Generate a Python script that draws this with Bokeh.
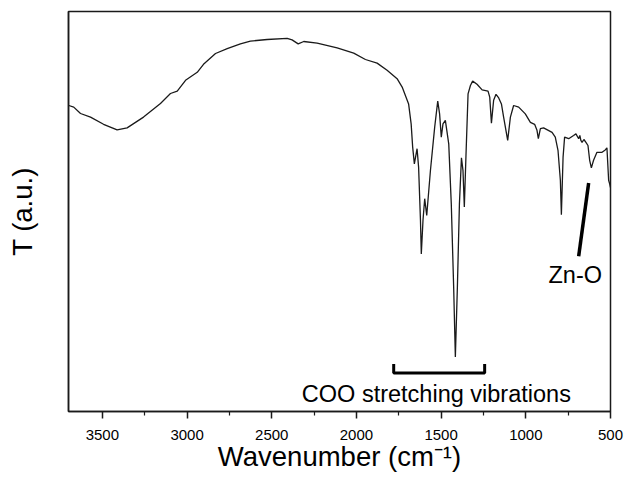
from bokeh.plotting import figure
from bokeh.models import Range1d, FixedTicker
from bokeh.core.properties import value
from bokeh.embed import file_html
from bokeh.resources import INLINE

# FTIR spectrum (wavenumber in cm^-1, transmittance in arbitrary units)
wavenumber = [3698, 3669, 3629, 3570, 3493, 3413, 3354, 3257, 3157, 3098, 3058, 3009,
              2940, 2903, 2832, 2763, 2685, 2626, 2527, 2409, 2380, 2344, 2311, 2232,
              2114, 2016, 1947, 1878, 1819, 1760, 1730, 1692, 1677, 1668, 1658, 1642,
              1633, 1622, 1617, 1607, 1597, 1585, 1563, 1538, 1520, 1509, 1499, 1489,
              1475, 1455, 1440, 1426, 1416, 1404, 1392, 1380, 1371, 1363, 1353, 1341,
              1327, 1314, 1288, 1258, 1223, 1213, 1203, 1190, 1176, 1160, 1144, 1131,
              1107, 1091, 1072, 1042, 1003, 973, 948, 934, 926, 914, 895, 845, 826,
              810, 796, 790, 780, 771, 747, 718, 704, 688, 681, 675, 668, 657, 645,
              633, 623, 613, 600, 580, 550, 531, 521, 511, 505, 500]
transmittance = [76.5, 76.1, 74.5, 73.6, 71.8, 70.4, 70.9, 73.6, 77.0, 79.5, 80.1, 82.8,
                 84.8, 86.8, 89.5, 90.7, 91.9, 92.6, 93.0, 93.3, 92.9, 91.9, 92.5, 92.1,
                 90.9, 89.6, 88.0, 87.1, 85.3, 83.2, 81.1, 76.9, 71.9, 66.1, 61.9, 65.7,
                 61.1, 47.8, 39.4, 47.8, 53.2, 49.0, 60.3, 71.1, 77.6, 74.4, 68.6, 71.9,
                 72.8, 66.9, 51.9, 31.1, 13.6, 31.1, 51.9, 63.4, 60.3, 51.1, 64.4, 79.4,
                 81.5, 82.6, 81.8, 80.4, 80.1, 78.6, 72.1, 77.8, 79.3, 78.4, 76.9, 73.6,
                 67.8, 73.6, 76.5, 76.1, 74.4, 72.3, 71.8, 70.3, 68.2, 70.7, 70.9, 69.8, 68.6,
                 65.3, 57.8, 49.2, 63.6, 68.6, 68.2, 69.0, 69.4, 68.2, 69.0, 67.8, 67.3, 68.0, 67.3,
                 66.5, 62.8, 60.9, 62.8, 64.8, 64.8, 65.4, 65.9, 57.8, 56.9, 56.0]

major_ticks = [500, 1000, 1500, 2000, 2500, 3000, 3500]
minor_ticks = [750, 1250, 1750, 2250, 2750, 3250]

# annotations
bracket_x = [1780, 1780, 1243, 1243]
bracket_y = [11.9, 9.6, 9.6, 11.9]
coo_label = "COO stretching vibrations"
coo_pos = (1528, 4.3)
zno_line_x = [629, 688]
zno_line_y = [57.1, 38.8]
zno_label = "Zn-O"
zno_pos = (708, 34.1)

FONT = "Liberation Sans"
INK = "#1a1a1a"

p = figure(width=624, height=482, output_backend="svg", toolbar_location=None,
           x_range=Range1d(3700, 500), y_range=Range1d(0, 100),
           min_border_left=68, min_border_right=14, min_border_top=11, min_border_bottom=71)
p.background_fill_color = "white"
p.border_fill_color = "white"
p.grid.visible = False
p.outline_line_color = INK
p.outline_line_width = 1.5
p.outline_line_alpha = 1

p.line(wavenumber, transmittance, line_color=INK, line_width=1.3)

p.line(bracket_x, bracket_y, line_color="black", line_width=3)
p.line(zno_line_x, zno_line_y, line_color="black", line_width=3.5)
p.text(x=[coo_pos[0]], y=[coo_pos[1]], text=[coo_label], text_align="center",
       text_baseline="middle", text_font=value(FONT), text_font_size=value("23.5px"),
       text_color="black")
p.text(x=[zno_pos[0]], y=[zno_pos[1]], text=[zno_label], text_align="center",
       text_baseline="middle", text_font=value(FONT), text_font_size=value("23.5px"),
       text_color="black")

xa = p.xaxis[0]
xa.ticker = FixedTicker(ticks=major_ticks, minor_ticks=minor_ticks)
xa.axis_line_color = INK
xa.axis_line_width = 1.5
xa.major_tick_line_color = INK
xa.major_tick_line_width = 1.5
xa.major_tick_out = 7
xa.major_tick_in = 0
xa.minor_tick_line_color = INK
xa.minor_tick_line_width = 1.2
xa.minor_tick_out = 4
xa.minor_tick_in = 0
xa.major_label_text_font = FONT
xa.major_label_text_font_size = "15px"
xa.major_label_text_color = "black"
xa.major_label_standoff = 11
xa.axis_label = "Wavenumber (cm\u207b\u00b9)"
xa.axis_label_text_font = FONT
xa.axis_label_text_font_size = "27.5px"
xa.axis_label_text_font_style = "normal"
xa.axis_label_text_color = "black"
xa.axis_label_standoff = -2

ya = p.yaxis[0]
ya.ticker = FixedTicker(ticks=[])
ya.axis_line_color = INK
ya.axis_line_width = 1.5
ya.major_tick_line_color = None
ya.minor_tick_line_color = None
ya.major_label_text_font_size = "0px"
ya.axis_label = "T (a.u.)"
ya.axis_label_text_font = FONT
ya.axis_label_text_font_size = "27.5px"
ya.axis_label_text_font_style = "normal"
ya.axis_label_text_color = "black"
ya.axis_label_standoff = 31

open("out.html", "w").write(file_html(p, INLINE))
